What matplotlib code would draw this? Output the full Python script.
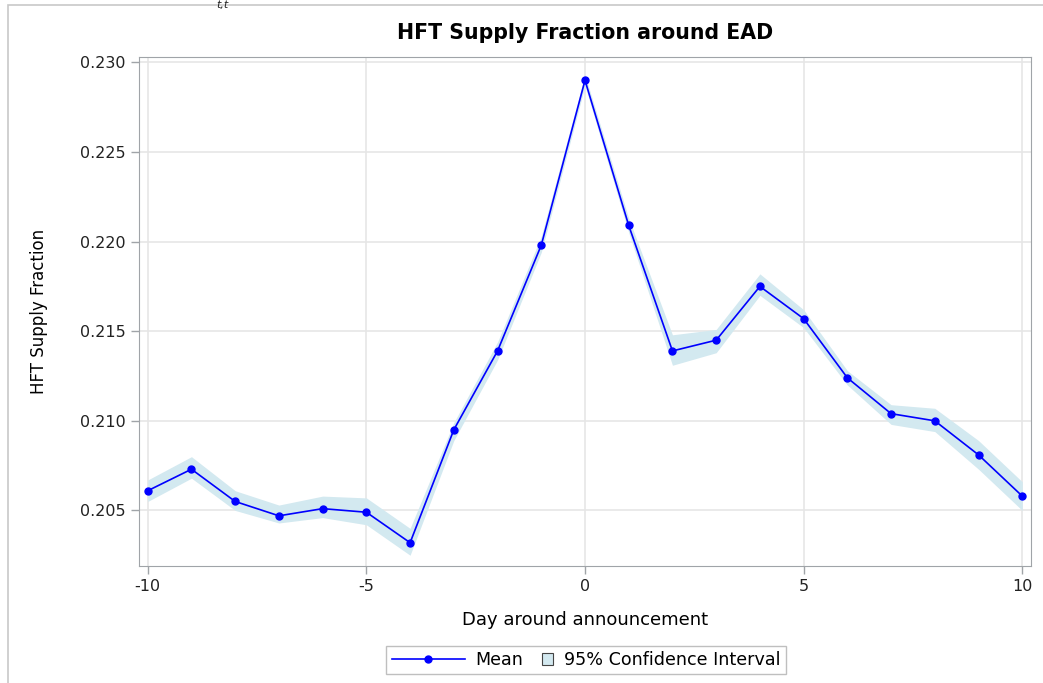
import numpy as np
import matplotlib
matplotlib.use("Agg")
import matplotlib.pyplot as plt
from matplotlib.patches import Rectangle, Patch
from matplotlib.lines import Line2D
from matplotlib.legend_handler import HandlerPatch

plt.rcParams['font.family'] = ['DejaVu Sans']

# data
days = list(range(-10, 11))
mean = [0.2061, 0.2073, 0.2055, 0.2047, 0.2051, 0.2049, 0.2032, 0.2095, 0.2139, 0.2198, 0.2290,
        0.2209, 0.2139, 0.2145, 0.2175, 0.2157, 0.2124, 0.2104, 0.2100, 0.2081, 0.2058]
ci_low = [0.2055, 0.2068, 0.2050, 0.2043, 0.2046, 0.2042, 0.2025, 0.2089, 0.2134, 0.2194, 0.2287,
          0.2205, 0.2131, 0.2138, 0.2170, 0.2152, 0.2120, 0.2098, 0.2094, 0.2073, 0.2050]
ci_high = [0.2067, 0.2080, 0.2061, 0.2053, 0.2058, 0.2057, 0.2040, 0.2099, 0.2144, 0.2203, 0.2293,
           0.2213, 0.2148, 0.2151, 0.2182, 0.2162, 0.2128, 0.2109, 0.2107, 0.2089, 0.2066]
xticks = [-10, -5, 0, 5, 10]
yticks = [0.205, 0.210, 0.215, 0.220, 0.225, 0.230]


class SquareHandler(HandlerPatch):
    # small square at the right end of the handle box
    def create_artists(self, legend, orig_handle, xdescent, ydescent, width, height, fontsize, trans):
        s = height * 0.95
        p = Rectangle((width - s - xdescent, -ydescent + (height - s) / 2), s, s,
                      facecolor=orig_handle.get_facecolor(), edgecolor=orig_handle.get_edgecolor(),
                      linewidth=orig_handle.get_linewidth(), transform=trans)
        return [p]


fig = plt.figure(figsize=(10.43, 6.83), dpi=100)
ax = fig.add_axes([139/1043, 1-566/683, (1031-139)/1043, (566-57)/683])

# outer frame of the graph image
fig.patches.append(Rectangle((8/1043, -0.01), 1.0, 1-5/683+0.01, transform=fig.transFigure,
                             fill=False, edgecolor='#c8c8c8', linewidth=1.2))
fig.text(216/1043, 1.0, 't,t', fontsize=8, style='italic', va='top', color='#222222')

band_col = '#d3e9f0'
ax.fill_between(days, ci_low, ci_high, color=band_col, linewidth=0, zorder=2)
ax.plot(days, mean, color='#0000ff', linewidth=1.2, marker='o', markersize=5, zorder=3)

ax.set_xlim(-10.2, 10.2)
ax.set_ylim(0.2019, 0.2303)
ax.set_xticks(xticks)
ax.set_xticklabels([str(t) for t in xticks])
ax.set_yticks(yticks)
ax.set_yticklabels([f'{t:.3f}' for t in yticks])
ax.grid(True, color='#e6e6e6', linewidth=1.2, zorder=0)
ax.set_axisbelow(True)
for s in ax.spines.values():
    s.set_color('#a0a4a8')
ax.tick_params(colors='#a0a4a8', labelcolor='#222222', labelsize=11.5, length=6, width=1)

ax.set_title('HFT Supply Fraction around EAD', fontsize=14.8, fontweight='bold', pad=13)
ax.set_xlabel('Day around announcement', fontsize=13, labelpad=12)
ax.set_ylabel('HFT Supply Fraction', fontsize=12, labelpad=23)

handles = [Line2D([0], [0], color='#0000ff', linewidth=1.2, marker='o', markersize=5),
           Patch(facecolor=band_col, edgecolor='#444444', linewidth=0.8)]
leg = fig.legend(handles, ['Mean', '95% Confidence Interval'], loc='center',
                 bbox_to_anchor=(586/1043, 1-660/683), ncol=2, fontsize=12.6,
                 frameon=True, fancybox=False, handlelength=4.2, columnspacing=-2.5,
                 handletextpad=0.6, borderpad=0.3, numpoints=1,
                 handler_map={Patch: SquareHandler()})
leg.get_frame().set_edgecolor('#b0b0b0')
leg.get_frame().set_linewidth(1)

fig.savefig('out.png', dpi=100)
